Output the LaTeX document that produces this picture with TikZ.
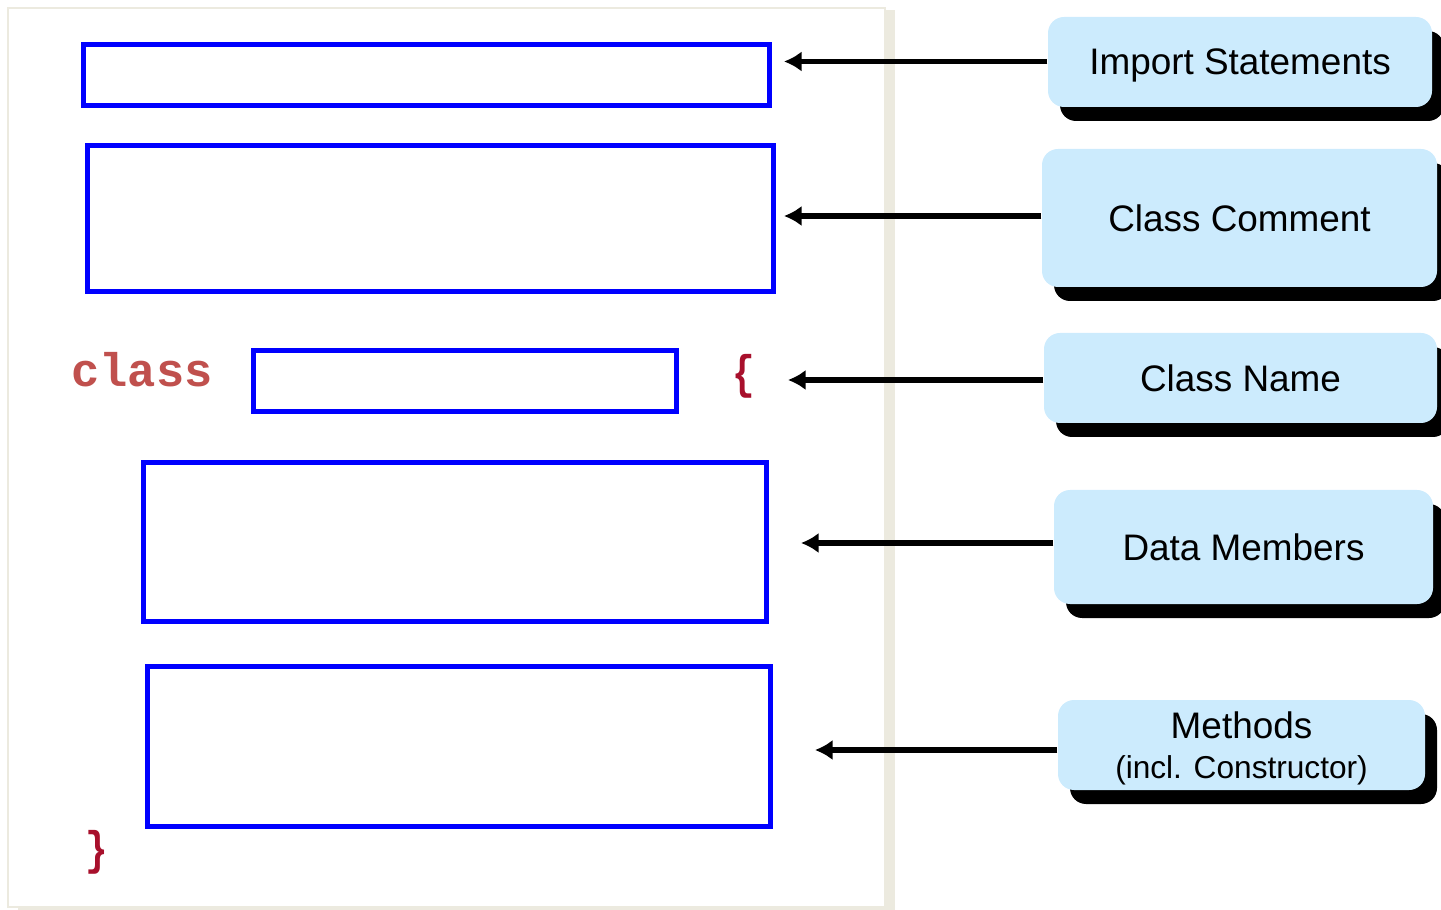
\documentclass[tikz,border=0pt]{standalone}
\usepackage{fontspec}
\setmainfont{Liberation Sans}
\setmonofont{Liberation Mono}
\usetikzlibrary{arrows.meta,shapes,shadows,positioning}

\definecolor{paper}{HTML}{ECEADF}
\definecolor{slotblue}{HTML}{0000FF}
\definecolor{tagblue}{HTML}{CCEBFD}
\definecolor{keyred}{HTML}{C0504D}
\definecolor{bracered}{HTML}{A8102C}

\begin{document}
\begin{tikzpicture}[>={Latex[length=5pt,width=5.8pt]}]
  \tikzstyle{codebox}=[draw=slotblue,line width=1.3pt,inner sep=0pt]
  \tikzstyle{part}=[fill=tagblue,rounded corners=0.16cm,inner sep=0pt,align=center,
    text depth=0pt,font=\fontsize{10.5}{13}\selectfont,
    drop shadow={shadow xshift=0.12cm,shadow yshift=-0.14cm,fill=black,opacity=1}]
  \tikzstyle{pointer}=[->,line width=1.6pt]
  \tikzstyle{code}=[font=\ttfamily\bfseries\fontsize{13.4}{14}\selectfont,inner sep=0pt]

  \useasboundingbox (0,0) rectangle (14.41,-9.10);

  % the page
  \fill[paper] (0.18,-0.10) rectangle (8.95,-9.20);
  \draw[paper,fill=white,line width=0.8pt] (0.08,-0.08) rectangle (8.85,-9.07);

  % slots in the class file
  \foreach \name/\x/\y/\w/\h in {1/4.265/-0.75/6.86/0.61, 2/4.305/-2.185/6.86/1.46,
                                 3/4.65/-3.81/4.23/0.61, 4/4.55/-5.42/6.23/1.59,
                                 5/4.59/-7.465/6.23/1.60}
    \node[codebox,minimum width=\w cm,minimum height=\h cm] (B-\name) at (\x,\y) {};

  \node[code,text=keyred] (kw) at (1.42,-3.70) {class};
  \node[code,text=bracered,xscale=0.8] (open) at (7.44,-3.76) {\{};
  \node[code,text=bracered,xscale=0.8] (close) at (0.97,-8.52) {\}};

  % labels
  \node[part,minimum width=3.84cm,minimum height=0.90cm] (L-1) at (12.40,-0.62) {Import Statements};
  \node[part,minimum width=3.95cm,minimum height=1.38cm] (L-2) at (12.395,-2.18) {Class Comment};
  \node[part,minimum width=3.93cm,minimum height=0.90cm] (L-3) at (12.405,-3.78) {Class Name};
  \node[part,minimum width=3.79cm,minimum height=1.14cm] (L-4) at (12.435,-5.47) {Data Members};
  \node[part,minimum width=3.67cm,minimum height=0.90cm] (L-5) at (12.415,-7.45)
    {Methods\\[-1.5pt]{\fontsize{9}{11}\selectfont(incl. Constructor)}};

  \foreach \name/\x/\y in {1/7.84/-0.615, 2/7.84/-2.16, 3/7.88/-3.80, 4/8.01/-5.43, 5/8.15/-7.50}
    \coordinate (A-\name) at (\x,\y);

  \foreach \name in {1,...,5}
    \draw[pointer] (L-\name.west |- A-\name) -- (A-\name);
\end{tikzpicture}
\end{document}
